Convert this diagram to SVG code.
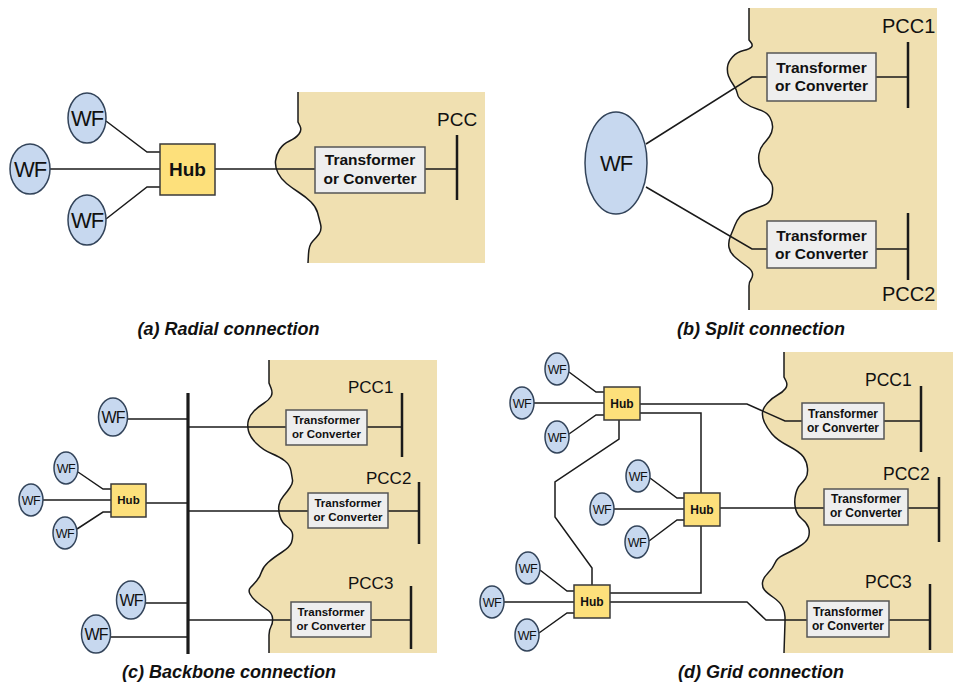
<svg xmlns="http://www.w3.org/2000/svg" width="953" height="685" viewBox="0 0 953 685">
<style>
.bg{fill:#f0e0b1;stroke:none}
.edge{fill:none;stroke:#1a1a1a;stroke-width:1.5}
.ln{fill:none;stroke:#1a1a1a;stroke-width:1.5;stroke-linejoin:miter}
.bar{fill:none;stroke:#1a1a1a;stroke-width:2.5}
.wf{fill:#c7d8ef;stroke:#33445a;stroke-width:1.5}
.hub{fill:#fde07b;stroke:#3a3a3a;stroke-width:1.5}
.box{fill:#eeeeee;stroke:#555555;stroke-width:1.5}
text{font-family:"Liberation Sans",Arial,sans-serif;fill:#111}
.wft{text-anchor:middle;letter-spacing:-1px}
.hbt{text-anchor:middle;font-weight:bold}
.bxt{text-anchor:middle;font-weight:bold}
.pcc{}
.cap{text-anchor:middle;font-weight:bold;font-style:italic;font-size:18px}
</style>

<!-- Backgrounds -->
<g id="regions">
<path class="bg" d="M298,92 L298,122 L300,126 Q302,130 299,134 Q296,138 289.5,141 Q283,144 279.5,149.5 Q276,155 275.5,161 Q275,167 278,173 Q281,179 286.5,183.5 Q292,188 299,192.5 Q306,197 311,202 Q316,207 317.5,212.5 Q319,218 320.5,224 Q322,230 319,234 Q316,238 312.5,241.5 Q309,245 308.5,254 L308,263 L485,263 L485,92 Z"/>
<path class="edge" d="M298,92 L298,122 L300,126 Q302,130 299,134 Q296,138 289.5,141 Q283,144 279.5,149.5 Q276,155 275.5,161 Q275,167 278,173 Q281,179 286.5,183.5 Q292,188 299,192.5 Q306,197 311,202 Q316,207 317.5,212.5 Q319,218 320.5,224 Q322,230 319,234 Q316,238 312.5,241.5 Q309,245 308.5,254 L308,263"/>
<path class="bg" d="M749,8 L749,40 L751,42.5 Q753,45 751.5,47 Q750,49 743.5,50.5 Q737,52 732.5,57 Q728,62 727.5,67 Q727,72 728.5,76 Q730,80 733.5,85 Q737,90 737.5,94 Q738,98 744,102.5 Q750,107 758.5,109.5 Q767,112 770,117.5 Q773,123 772.5,128 Q772,133 769.5,136.5 Q767,140 763.5,144 Q760,148 759,154 Q758,160 760,166.5 Q762,173 767,177.5 Q772,182 772.5,187 Q773,192 771.5,197.5 Q770,203 763.5,205.5 Q757,208 750,210.5 Q743,213 740,216.5 Q737,220 735,225 Q733,230 730.5,236 Q728,242 729,247.5 Q730,253 736,258 Q742,263 747,266.5 Q752,270 752.5,273.5 Q753,277 751,279.5 Q749,282 749,286 L749,310 L937,310 L937,8 Z"/>
<path class="edge" d="M749,8 L749,40 L751,42.5 Q753,45 751.5,47 Q750,49 743.5,50.5 Q737,52 732.5,57 Q728,62 727.5,67 Q727,72 728.5,76 Q730,80 733.5,85 Q737,90 737.5,94 Q738,98 744,102.5 Q750,107 758.5,109.5 Q767,112 770,117.5 Q773,123 772.5,128 Q772,133 769.5,136.5 Q767,140 763.5,144 Q760,148 759,154 Q758,160 760,166.5 Q762,173 767,177.5 Q772,182 772.5,187 Q773,192 771.5,197.5 Q770,203 763.5,205.5 Q757,208 750,210.5 Q743,213 740,216.5 Q737,220 735,225 Q733,230 730.5,236 Q728,242 729,247.5 Q730,253 736,258 Q742,263 747,266.5 Q752,270 752.5,273.5 Q753,277 751,279.5 Q749,282 749,286 L749,310"/>
<path class="bg" d="M269,360 L269,383 L271,388 Q273,393 271,396.5 Q269,400 263.5,403.5 Q258,407 254,411 Q250,415 248.5,420 Q247,425 248.5,431 Q250,437 256.5,443.5 Q263,450 271.5,453.5 Q280,457 285,461 Q290,465 291,471 Q292,477 292.5,480 Q293,483 290,487.5 Q287,492 283.5,496 Q280,500 279,505 Q278,510 280,516.5 Q282,523 287,526.5 Q292,530 292.5,534 Q293,538 291.5,542.5 Q290,547 281.5,552.5 Q273,558 268,562.5 Q263,567 261.5,572 Q260,577 256.5,581 Q253,585 250.5,587.5 Q248,590 250,594 Q252,598 257.5,602.5 Q263,607 267.5,610 Q272,613 272.5,618 Q273,623 271,626.5 Q269,630 269,635 L269,653 L437,653 L437,360 Z"/>
<path class="edge" d="M269,360 L269,383 L271,388 Q273,393 271,396.5 Q269,400 263.5,403.5 Q258,407 254,411 Q250,415 248.5,420 Q247,425 248.5,431 Q250,437 256.5,443.5 Q263,450 271.5,453.5 Q280,457 285,461 Q290,465 291,471 Q292,477 292.5,480 Q293,483 290,487.5 Q287,492 283.5,496 Q280,500 279,505 Q278,510 280,516.5 Q282,523 287,526.5 Q292,530 292.5,534 Q293,538 291.5,542.5 Q290,547 281.5,552.5 Q273,558 268,562.5 Q263,567 261.5,572 Q260,577 256.5,581 Q253,585 250.5,587.5 Q248,590 250,594 Q252,598 257.5,602.5 Q263,607 267.5,610 Q272,613 272.5,618 Q273,623 271,626.5 Q269,630 269,635 L269,653"/>
<path class="bg" d="M784,352 L784,377 L786,381 Q788,385 785.5,388.5 Q783,392 777.5,395 Q772,398 767.5,403 Q763,408 762.5,412.5 Q762,417 764.5,422.5 Q767,428 772,434 Q777,440 788.5,446 Q800,452 803.5,457 Q807,462 807.5,468.5 Q808,475 805.5,478.5 Q803,482 800,485 Q797,488 795.5,495 Q794,502 795.5,508.5 Q797,515 802,519 Q807,523 808.5,527.5 Q810,532 808.5,537 Q807,542 798.5,547 Q790,552 783.5,555 Q777,558 775,563 Q773,568 768,573 Q763,578 762.5,582.5 Q762,587 764.5,590 Q767,593 773.5,597.5 Q780,602 782.5,607 Q785,612 785,617 L785,622 L784,653 L953,653 L953,352 Z"/>
<path class="edge" d="M784,352 L784,377 L786,381 Q788,385 785.5,388.5 Q783,392 777.5,395 Q772,398 767.5,403 Q763,408 762.5,412.5 Q762,417 764.5,422.5 Q767,428 772,434 Q777,440 788.5,446 Q800,452 803.5,457 Q807,462 807.5,468.5 Q808,475 805.5,478.5 Q803,482 800,485 Q797,488 795.5,495 Q794,502 795.5,508.5 Q797,515 802,519 Q807,523 808.5,527.5 Q810,532 808.5,537 Q807,542 798.5,547 Q790,552 783.5,555 Q777,558 775,563 Q773,568 768,573 Q763,578 762.5,582.5 Q762,587 764.5,590 Q767,593 773.5,597.5 Q780,602 782.5,607 Q785,612 785,617 L785,622 L784,653"/>
</g>

<!-- Connectors -->
<g id="connectors">
<!-- (a) -->
<path class="ln" d="M106,121 L147,152 L160,152"/>
<path class="ln" d="M50,169 L160,169"/>
<path class="ln" d="M106,219 L147,187 L160,187"/>
<path class="ln" d="M215,169 L315,169"/>
<path class="ln" d="M425,169 L457,169"/>
<!-- (b) -->
<path class="ln" d="M646,144 L752,77 L767,77"/>
<path class="ln" d="M646,187 L752,249 L767,249"/>
<path class="ln" d="M876,77 L908,77"/>
<path class="ln" d="M876,249 L908,249"/>
<!-- (c) -->
<path class="ln" d="M128,419 L188,419"/>
<path class="ln" d="M78,472 L103,489 L111,489"/>
<path class="ln" d="M43,500 L111,500"/>
<path class="ln" d="M77,529 L103,512 L111,512"/>
<path class="ln" d="M146,503 L188,503"/>
<path class="ln" d="M145,603 L188,603"/>
<path class="ln" d="M110,637 L188,637"/>
<path class="ln" d="M188,427 L286,427"/>
<path class="ln" d="M188,511 L308,511"/>
<path class="ln" d="M188,620 L291,620"/>
<path class="ln" d="M367,427 L402,427"/>
<path class="ln" d="M388,511 L419,511"/>
<path class="ln" d="M371,620 L411,620"/>
<!-- (d) -->
<path class="ln" d="M569,372 L596,392 L604,392"/>
<path class="ln" d="M534,403 L604,403"/>
<path class="ln" d="M569,434 L596,415 L604,415"/>
<path class="ln" d="M650,478 L677,498 L684,498"/>
<path class="ln" d="M614,509 L684,509"/>
<path class="ln" d="M649,541 L677,520 L684,520"/>
<path class="ln" d="M540,570 L567,591 L574,591"/>
<path class="ln" d="M504,602 L574,602"/>
<path class="ln" d="M539,633 L567,613 L574,613"/>
<path class="ln" d="M640,404 L747,404 L785,421 L802,421"/>
<path class="ln" d="M640,413 L701,413 L701,493"/>
<path class="ln" d="M619,420 L619,439 L555,482 L555,517 L592,568 L592,585"/>
<path class="ln" d="M720,508 L824,508"/>
<path class="ln" d="M701,526 L701,593 L610,593"/>
<path class="ln" d="M610,602 L747,602 L766,620 L807,620"/>
<path class="ln" d="M884,421 L921,421"/>
<path class="ln" d="M908,508 L939,508"/>
<path class="ln" d="M889,620 L930,620"/>
<!-- PCC bars -->
<path class="bar" d="M457,135 L457,200"/>
<path class="bar" d="M908,42 L908,108"/>
<path class="bar" d="M908,213 L908,280"/>
<path class="bar" style="stroke-width:3.2" d="M188,393 L188,654"/>
<path class="bar" d="M402,393 L402,457"/>
<path class="bar" d="M419,482 L419,544"/>
<path class="bar" d="M411,586 L411,649"/>
<path class="bar" d="M921,386 L921,452"/>
<path class="bar" d="M939,477 L939,542"/>
<path class="bar" d="M930,584 L930,650"/>
</g>

<!-- (a) nodes -->
<g id="a-wf1"><ellipse class="wf" cx="87" cy="118" rx="19" ry="25"/><text class="wft" x="87" y="126" font-size="22">WF</text></g>
<g id="a-wf2"><ellipse class="wf" cx="30" cy="169" rx="20" ry="25"/><text class="wft" x="30" y="177" font-size="22">WF</text></g>
<g id="a-wf3"><ellipse class="wf" cx="87" cy="220" rx="19" ry="25"/><text class="wft" x="87" y="228" font-size="22">WF</text></g>
<g id="a-hub"><rect class="hub" x="160" y="144" width="55" height="51"/><text class="hbt" x="187.5" y="176" font-size="19">Hub</text></g>
<g id="a-tc"><rect class="box" x="315" y="147" width="110" height="46"/><text class="bxt" x="370" y="165" font-size="15.5">Transformer</text><text class="bxt" x="370" y="184" font-size="15.5">or Converter</text></g>
<g id="a-pcc"><text x="437" y="126" font-size="19">PCC</text></g>

<!-- (b) nodes -->
<g id="b-wf"><ellipse class="wf" cx="616" cy="163" rx="31" ry="51"/><text class="wft" x="616" y="171" font-size="22">WF</text></g>
<g id="b-tc1"><rect class="box" x="767" y="53" width="109" height="48"/><text class="bxt" x="821.5" y="73" font-size="15.5">Transformer</text><text class="bxt" x="821.5" y="91" font-size="15.5">or Converter</text></g>
<g id="b-tc2"><rect class="box" x="767" y="221" width="109" height="47"/><text class="bxt" x="821.5" y="241" font-size="15.5">Transformer</text><text class="bxt" x="821.5" y="259" font-size="15.5">or Converter</text></g>
<g id="b-pcc1"><text x="882" y="33" font-size="20">PCC1</text></g>
<g id="b-pcc2"><text x="882" y="301" font-size="20">PCC2</text></g>

<!-- (c) nodes -->
<g id="c-wf1"><ellipse class="wf" cx="113" cy="417" rx="14.5" ry="19"/><text class="wft" x="113" y="423" font-size="16">WF</text></g>
<g id="c-wf2"><ellipse class="wf" cx="66" cy="468" rx="12" ry="16"/><text class="wft" x="66" y="473" font-size="12.5" style="letter-spacing:-0.5px">WF</text></g>
<g id="c-wf3"><ellipse class="wf" cx="31" cy="500" rx="12" ry="16"/><text class="wft" x="31" y="505" font-size="12.5" style="letter-spacing:-0.5px">WF</text></g>
<g id="c-wf4"><ellipse class="wf" cx="65" cy="533" rx="12" ry="16"/><text class="wft" x="65" y="538" font-size="12.5" style="letter-spacing:-0.5px">WF</text></g>
<g id="c-wf5"><ellipse class="wf" cx="131" cy="600" rx="14.5" ry="19"/><text class="wft" x="131" y="606" font-size="16">WF</text></g>
<g id="c-wf6"><ellipse class="wf" cx="96" cy="634" rx="14.5" ry="19"/><text class="wft" x="96" y="640" font-size="16">WF</text></g>
<g id="c-hub"><rect class="hub" x="111" y="484" width="35" height="33"/><text class="hbt" x="128.5" y="504" font-size="11.5">Hub</text></g>
<g id="c-tc1"><rect class="box" x="286" y="410" width="81" height="35"/><text class="bxt" x="326.5" y="424" font-size="11.5">Transformer</text><text class="bxt" x="326.5" y="438" font-size="11.5">or Converter</text></g>
<g id="c-tc2"><rect class="box" x="308" y="493" width="80" height="35"/><text class="bxt" x="348" y="507" font-size="11.5">Transformer</text><text class="bxt" x="348" y="521" font-size="11.5">or Converter</text></g>
<g id="c-tc3"><rect class="box" x="291" y="602" width="80" height="35"/><text class="bxt" x="331" y="616" font-size="11.5">Transformer</text><text class="bxt" x="331" y="630" font-size="11.5">or Converter</text></g>
<g id="c-pcc1"><text x="348" y="393" font-size="17">PCC1</text></g>
<g id="c-pcc2"><text x="366" y="484" font-size="17">PCC2</text></g>
<g id="c-pcc3"><text x="348" y="589" font-size="17">PCC3</text></g>

<!-- (d) nodes -->
<g id="d-wf1"><ellipse class="wf" cx="557" cy="369" rx="12" ry="16"/><text class="wft" x="557" y="374" font-size="12.5" style="letter-spacing:-0.5px">WF</text></g>
<g id="d-wf2"><ellipse class="wf" cx="522" cy="403" rx="12" ry="16"/><text class="wft" x="522" y="408" font-size="12.5" style="letter-spacing:-0.5px">WF</text></g>
<g id="d-wf3"><ellipse class="wf" cx="557" cy="437" rx="12" ry="16"/><text class="wft" x="557" y="442" font-size="12.5" style="letter-spacing:-0.5px">WF</text></g>
<g id="d-wf4"><ellipse class="wf" cx="638" cy="476" rx="12" ry="16"/><text class="wft" x="638" y="481" font-size="12.5" style="letter-spacing:-0.5px">WF</text></g>
<g id="d-wf5"><ellipse class="wf" cx="602" cy="509" rx="12" ry="16"/><text class="wft" x="602" y="514" font-size="12.5" style="letter-spacing:-0.5px">WF</text></g>
<g id="d-wf6"><ellipse class="wf" cx="637" cy="542" rx="12" ry="16"/><text class="wft" x="637" y="547" font-size="12.5" style="letter-spacing:-0.5px">WF</text></g>
<g id="d-wf7"><ellipse class="wf" cx="528" cy="568" rx="12" ry="16"/><text class="wft" x="528" y="573" font-size="12.5" style="letter-spacing:-0.5px">WF</text></g>
<g id="d-wf8"><ellipse class="wf" cx="492" cy="602" rx="12" ry="16"/><text class="wft" x="492" y="607" font-size="12.5" style="letter-spacing:-0.5px">WF</text></g>
<g id="d-wf9"><ellipse class="wf" cx="527" cy="635" rx="12" ry="16"/><text class="wft" x="527" y="640" font-size="12.5" style="letter-spacing:-0.5px">WF</text></g>
<g id="d-hub1"><rect class="hub" x="604" y="387" width="36" height="33"/><text class="hbt" x="622" y="408" font-size="12">Hub</text></g>
<g id="d-hub2"><rect class="hub" x="684" y="493" width="36" height="33"/><text class="hbt" x="702" y="514" font-size="12">Hub</text></g>
<g id="d-hub3"><rect class="hub" x="574" y="585" width="36" height="33"/><text class="hbt" x="592" y="606" font-size="12">Hub</text></g>
<g id="d-tc1"><rect class="box" x="802" y="403" width="82" height="36"/><text class="bxt" x="843" y="418" font-size="12">Transformer</text><text class="bxt" x="843" y="432" font-size="12">or Converter</text></g>
<g id="d-tc2"><rect class="box" x="824" y="489" width="84" height="36"/><text class="bxt" x="866" y="503" font-size="12">Transformer</text><text class="bxt" x="866" y="517" font-size="12">or Converter</text></g>
<g id="d-tc3"><rect class="box" x="807" y="601" width="82" height="36"/><text class="bxt" x="848" y="616" font-size="12">Transformer</text><text class="bxt" x="848" y="630" font-size="12">or Converter</text></g>
<g id="d-pcc1"><text x="865" y="386" font-size="17.5">PCC1</text></g>
<g id="d-pcc2"><text x="883" y="480" font-size="17.5">PCC2</text></g>
<g id="d-pcc3"><text x="865" y="588" font-size="17.5">PCC3</text></g>

<!-- Captions -->
<g id="captions">
<text class="cap" x="228.5" y="335">(a) Radial connection</text>
<text class="cap" x="761" y="335">(b) Split connection</text>
<text class="cap" x="229" y="678">(c) Backbone connection</text>
<text class="cap" x="761" y="678">(d) Grid connection</text>
</g>
</svg>
